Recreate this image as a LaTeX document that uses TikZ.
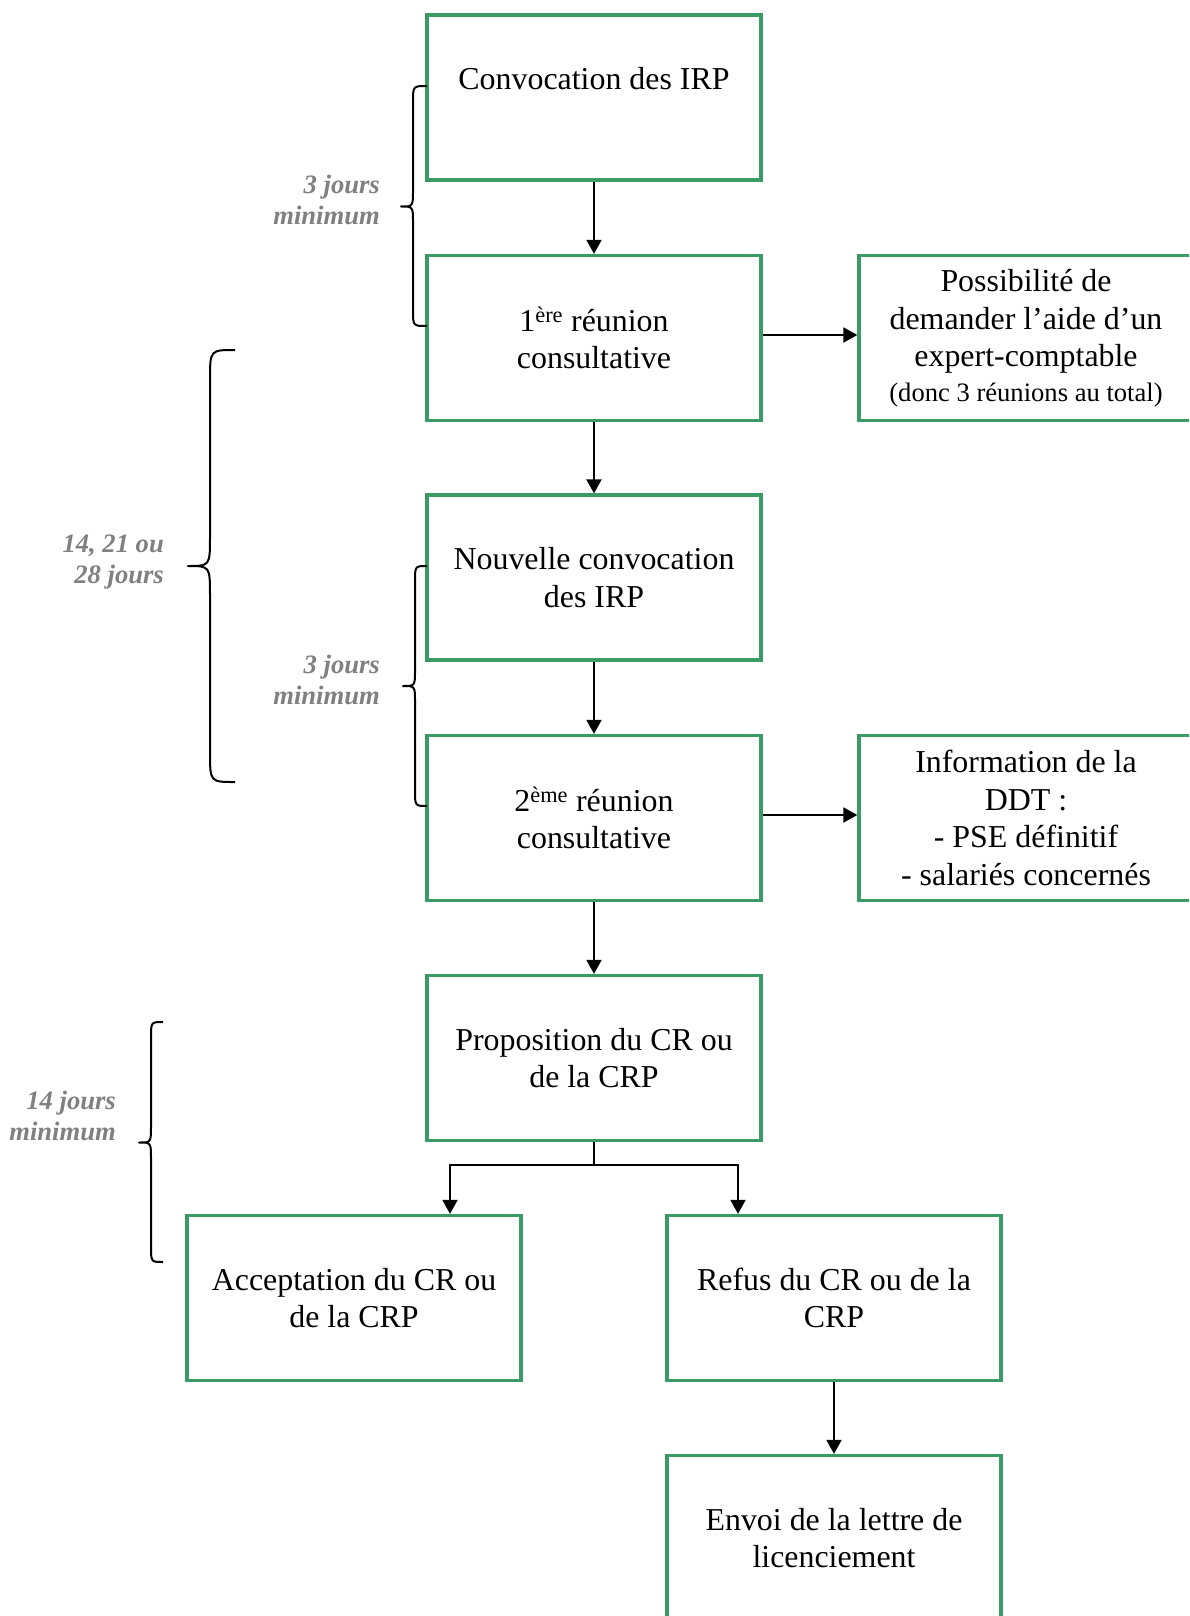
\documentclass[tikz,border=0pt]{standalone}
\usepackage{fontspec}
\setmainfont{Liberation Serif}
\usetikzlibrary{arrows.meta}
\definecolor{boxgreen}{RGB}{58,155,100}
\definecolor{labelgray}{RGB}{128,128,128}
\begin{document}
\begin{tikzpicture}[x=1pt,y=-1pt,
  stepbox/.style={draw=boxgreen, line width=3.3pt, minimum width=334pt, minimum height=165pt,
    inner sep=0pt, align=center, font=\fontsize{31.9}{37.5}\selectfont},
  link/.style={draw=black, line width=2pt},
  flow/.style={link, -{Triangle[length=14pt,width=15pt]}},
  curly/.style={draw=black, line width=2pt, line join=round},
  delay/.style={text=labelgray, align=right, anchor=east, inner sep=0pt,
    font=\fontsize{26.6}{30.6}\selectfont\bfseries\itshape}
]
\useasboundingbox (0,0) rectangle (1189,1616);
\clip (0,0) rectangle (1189,1616);

% main column of steps
\node[stepbox] (b1) at (594,97.5)  {Convocation des IRP\\ \mbox{}};
\node[stepbox] (b2) at (594,338)   {1\textsuperscript{ère} réunion\\consultative};
\node[stepbox] (b4) at (594,577.5) {Nouvelle convocation\\des IRP};
\node[stepbox] (b5) at (594,818)   {2\textsuperscript{ème} réunion\\consultative};
\node[stepbox] (b7) at (594,1058)  {Proposition du CR ou\\de la CRP};
\node[stepbox] (b8) at (354,1298)  {Acceptation du CR ou\\de la CRP};
\node[stepbox] (b9) at (834,1298)  {Refus du CR ou de la\\CRP};
\node[stepbox] (b10) at (834,1538) {Envoi de la lettre de\\licenciement};

% side notes
\node[stepbox] (b3) at (1026,338) {Possibilité de\\demander l’aide d’un\\expert-comptable\\[-3pt]{\fontsize{26.6}{31}\selectfont (donc 3 réunions au total)}};
\node[stepbox] (b6) at (1026,818) {Information de la\\DDT :\\- PSE définitif\\- salariés concernés};

% connectors
\draw[flow] (b1.south) -- (b2.north);
\draw[flow] (b2.south) -- (b4.north);
\draw[flow] (b4.south) -- (b5.north);
\draw[flow] (b5.south) -- (b7.north);
\draw[flow] ([yshift=3pt]b2.east) -- ([yshift=3pt]b3.west);
\draw[flow] ([yshift=3pt]b5.east) -- ([yshift=3pt]b6.west);
\coordinate (fork)  at (594,1165);
\coordinate (forkL) at (450,1165);
\coordinate (forkR) at (738,1165);
\draw[link] (b7.south) -- (fork);
\draw[flow] (fork) -- (forkL) -- (forkL |- b8.north);
\draw[flow] (fork) -- (forkR) -- (forkR |- b9.north);
\draw[flow] (b9.south) -- (b10.north);

% braces marking the delays
\draw[curly] (427,86) .. controls (413,86) .. (413,102) -- (413,190)
  .. controls (413,206.5) .. (401,206.5) .. controls (413,206.5) .. (413,223)
  -- (413,310) .. controls (413,326) .. (427,326);
\draw[curly] (235,350) .. controls (210,350) .. (210,380) -- (210,536)
  .. controls (210,566) .. (188,566) .. controls (210,566) .. (210,596)
  -- (210,752) .. controls (210,782) .. (235,782);
\draw[curly] (427,566) .. controls (415,566) .. (415,582) -- (415,670)
  .. controls (415,686) .. (403,686) .. controls (415,686) .. (415,702)
  -- (415,790) .. controls (415,806) .. (427,806);
\draw[curly] (163,1022) .. controls (151,1022) .. (151,1038) -- (151,1126)
  .. controls (151,1142.5) .. (139,1142.5) .. controls (151,1142.5) .. (151,1159)
  -- (151,1246) .. controls (151,1262) .. (163,1262);

% delay labels
\node[delay] (d1) at (380,200) {3 jours\\minimum};
\node[delay] (d2) at (164,562) {14, 21 ou\\28 jours};
\node[delay] (d3) at (380,680) {3 jours\\minimum};
\node[delay] (d4) at (116,1116) {14 jours\\minimum};
\end{tikzpicture}
\end{document}
